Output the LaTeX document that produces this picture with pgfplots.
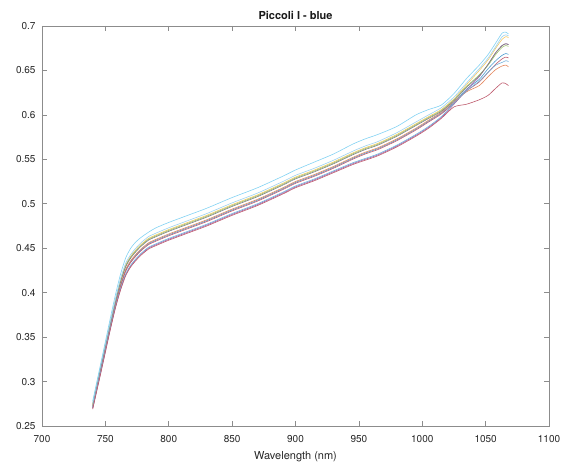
\documentclass[border=0pt]{standalone}
\usepackage{fontspec}
\setmainfont{TeX Gyre Heros}
\usepackage{pgfplots}
\usepackage{pgfplotstable}
\pgfplotsset{compat=1.18}

\definecolor{mC}{HTML}{4DBEEE}
\definecolor{mLB}{HTML}{9DD3F0}
\definecolor{mY}{HTML}{EDB120}
\definecolor{mG}{HTML}{77AC30}
\definecolor{mK}{HTML}{555555}
\definecolor{mB}{HTML}{0072BD}
\definecolor{mR}{HTML}{A2142F}
\definecolor{mO}{HTML}{D95319}
\definecolor{mP}{HTML}{7E2F8E}

\pgfplotstableread{
x C LB Y G K B1 R Or Pu B2 RL
740 0.278 0.276 0.275 0.274 0.273 0.271 0.270 0.272 0.270 0.271 0.269
743 0.298 0.296 0.295 0.294 0.293 0.291 0.290 0.292 0.289 0.290 0.288
746 0.318 0.316 0.315 0.314 0.313 0.311 0.310 0.312 0.308 0.309 0.307
750 0.345 0.342 0.341 0.340 0.339 0.337 0.336 0.338 0.334 0.335 0.333
754 0.372 0.368 0.367 0.366 0.365 0.362 0.361 0.363 0.360 0.361 0.359
758 0.398 0.393 0.392 0.391 0.390 0.387 0.386 0.388 0.384 0.385 0.383
762 0.421 0.416 0.414 0.413 0.412 0.408 0.407 0.409 0.404 0.405 0.403
766 0.439 0.433 0.431 0.430 0.429 0.425 0.424 0.426 0.420 0.421 0.419
770 0.450 0.443 0.441 0.440 0.439 0.435 0.434 0.436 0.430 0.431 0.429
774 0.457 0.450 0.448 0.447 0.446 0.442 0.441 0.443 0.437 0.438 0.436
778 0.462 0.456 0.454 0.453 0.452 0.448 0.447 0.449 0.443 0.444 0.442
784 0.468 0.463 0.461 0.460 0.459 0.455 0.454 0.456 0.450 0.451 0.449
790 0.473 0.467 0.465 0.464 0.463 0.459 0.458 0.460 0.454 0.455 0.453
800 0.479 0.473 0.471 0.470 0.469 0.465 0.464 0.466 0.460 0.461 0.459
815 0.487 0.481 0.479 0.478 0.477 0.473 0.472 0.474 0.468 0.469 0.467
830 0.495 0.489 0.487 0.486 0.485 0.481 0.480 0.482 0.476 0.477 0.475
850 0.507 0.501 0.499 0.498 0.497 0.493 0.492 0.494 0.488 0.489 0.487
870 0.518 0.512 0.510 0.509 0.508 0.504 0.503 0.505 0.499 0.500 0.498
890 0.531 0.525 0.523 0.522 0.521 0.517 0.516 0.518 0.512 0.513 0.511
900 0.538 0.532 0.530 0.529 0.528 0.524 0.523 0.525 0.519 0.520 0.518
915 0.547 0.540 0.538 0.537 0.536 0.532 0.531 0.533 0.527 0.528 0.526
930 0.556 0.549 0.547 0.546 0.545 0.541 0.540 0.542 0.536 0.537 0.535
945 0.567 0.559 0.557 0.556 0.555 0.551 0.550 0.552 0.545 0.546 0.544
955 0.573 0.565 0.563 0.562 0.561 0.557 0.556 0.558 0.550 0.551 0.549
965 0.578 0.570 0.568 0.567 0.566 0.562 0.561 0.563 0.555 0.556 0.554
980 0.587 0.580 0.578 0.577 0.576 0.572 0.571 0.573 0.565 0.566 0.564
995 0.600 0.592 0.590 0.589 0.588 0.584 0.583 0.585 0.577 0.578 0.576
1005 0.606 0.600 0.598 0.597 0.596 0.593 0.592 0.594 0.586 0.587 0.585
1015 0.611 0.608 0.606 0.605 0.604 0.602 0.601 0.603 0.597 0.598 0.596
1025 0.624 0.620 0.618 0.617 0.616 0.614 0.613 0.615 0.612 0.613 0.609
1035 0.641 0.636 0.634 0.632 0.631 0.629 0.627 0.626 0.628 0.627 0.612
1045 0.656 0.652 0.650 0.645 0.644 0.640 0.637 0.633 0.643 0.638 0.617
1052 0.668 0.664 0.662 0.656 0.657 0.652 0.648 0.643 0.657 0.648 0.622
1058 0.681 0.677 0.675 0.668 0.670 0.661 0.657 0.651 0.670 0.656 0.630
1063 0.692 0.688 0.685 0.676 0.678 0.667 0.663 0.655 0.678 0.659 0.636
1066 0.693 0.690 0.688 0.678 0.680 0.669 0.665 0.656 0.680 0.661 0.635
1068 0.691 0.689 0.687 0.677 0.679 0.668 0.664 0.654 0.679 0.660 0.633
}\datatable

\begin{document}
\begin{tikzpicture}
\begin{axis}[
  scale only axis,
  width=507pt, height=400pt,
  xmin=700, xmax=1100, ymin=0.25, ymax=0.7,
  xtick={700,750,800,850,900,950,1000,1050,1100},
  ytick={0.25,0.3,0.35,0.4,0.45,0.5,0.55,0.6,0.65,0.7},
  yticklabels={0.25,0.3,0.35,0.4,0.45,0.5,0.55,0.6,0.65,0.7},
  /pgf/number format/assume math mode=true,
  /pgf/number format/1000 sep={},
  tick align=inside, tick pos=both,
  major tick length=5pt,
  axis line style={draw=black!45, line width=0.6pt},
  tick style={draw=black!45, line width=0.6pt},
  ticklabel style={font=\fontsize{10}{12}\selectfont, text=black!85},
  xticklabel style={yshift=-6pt},
  yticklabel style={xshift=-3pt},
  xlabel={Wavelength (nm)},
  xlabel style={font=\fontsize{11}{13}\selectfont, text=black!85, yshift=-2pt},
  title={\textbf{Piccoli I - blue}},
  title style={font=\fontsize{11}{13}\selectfont, text=black!90, yshift=-3pt},
  every axis plot/.append style={line width=0.6pt, no markers, smooth, tension=0.4},
]
\addplot[mB!70!white] table[x=x, y=B1] {\datatable};
\addplot[mO!70!white] table[x=x, y=Or] {\datatable};
\addplot[mY!70!white] table[x=x, y=Y] {\datatable};
\addplot[mP!75!white] table[x=x, y=Pu] {\datatable};
\addplot[mG!70!white] table[x=x, y=G] {\datatable};
\addplot[mK!75!white] table[x=x, y=K] {\datatable};
\addplot[mR!70!white] table[x=x, y=R] {\datatable};
\addplot[mB!55!white] table[x=x, y=B2] {\datatable};
\addplot[mR!70!white] table[x=x, y=RL] {\datatable};
\addplot[mLB] table[x=x, y=LB] {\datatable};
\addplot[mC!70!white] table[x=x, y=C] {\datatable};
\end{axis}
\pgfresetboundingbox
\path ([xshift=-42pt,yshift=-38pt]current axis.south west) rectangle ([xshift=15pt,yshift=26pt]current axis.north east);
\end{tikzpicture}
\end{document}
